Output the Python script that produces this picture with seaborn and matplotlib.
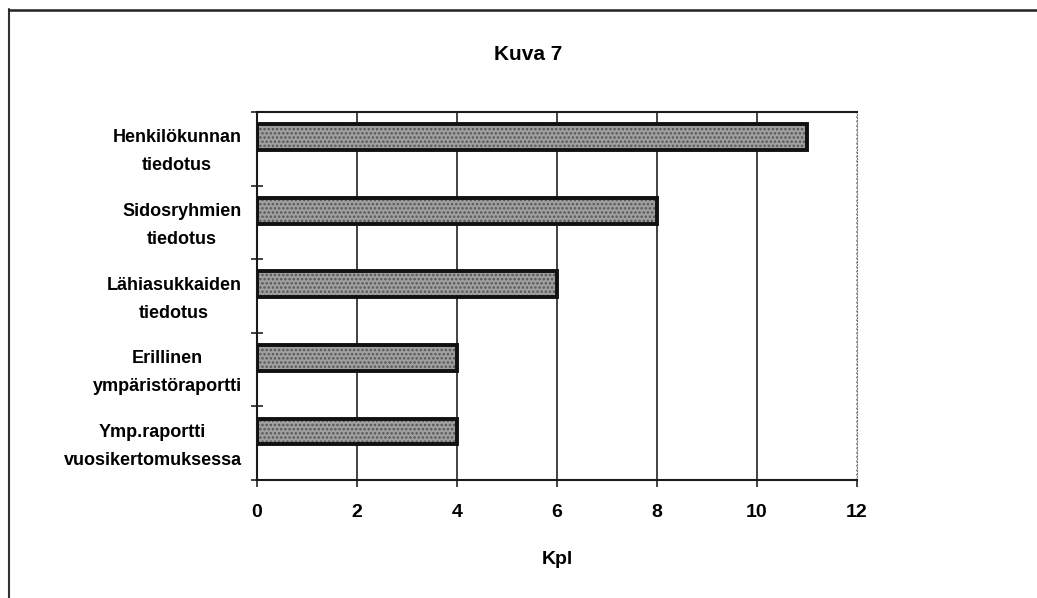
import numpy as np
import pandas as pd
import matplotlib
matplotlib.use("Agg")
import matplotlib.pyplot as plt
from matplotlib.patches import Rectangle
from matplotlib.lines import Line2D
import seaborn as sns

categories = ["Henkilökunnan\ntiedotus", "Sidosryhmien\ntiedotus", "Lähiasukkaiden\ntiedotus",
              "Erillinen\nympäristöraportti", "Ymp.raportti\nvuosikertomuksessa"]
values = [11, 8, 6, 4, 4]
xticks = [0, 2, 4, 6, 8, 10, 12]
title = "Kuva 7"
xlabel = "Kpl"

sns.set_style("white")
plt.rcParams['font.family'] = ['Liberation Sans', 'DejaVu Sans']
plt.rcParams['hatch.linewidth'] = 1.2
plt.rcParams['text.color'] = 'black'

df = pd.DataFrame({"cat": categories, "val": values})

fig = plt.figure(figsize=(10.37, 5.98), dpi=100)
ax = fig.add_axes([257/1037, 1-480/598, 600/1037, 368/598])

sns.barplot(data=df, x="val", y="cat", orient="h", ax=ax, width=0.35,
            color="#a0a0a0", edgecolor="#555555", linewidth=0, hatch="....",
            saturation=1)
for p in list(ax.patches):
    ax.add_patch(Rectangle(p.get_xy(), p.get_width(), p.get_height(),
                           fill=False, edgecolor="#111111", lw=2.8, zorder=3))

n = len(categories)
ax.set_ylim(n - 0.34, -0.34)
ax.set_xlim(xticks[0], xticks[-1])
ax.set_xticks(xticks)
ax.set_xticklabels([str(t) for t in xticks], fontsize=14, fontweight="bold", color="black")
ax.set_yticks(np.arange(n) + 0.1)
ax.set_yticklabels(categories, fontsize=13, fontweight="bold", color="black",
                   multialignment="center", ha="right", linespacing=1.85)
ax.tick_params(axis="y", which="major", left=True, length=0, pad=11)
ax.set_yticks(np.arange(n + 1) - 0.34, minor=True)
ax.tick_params(axis="y", which="minor", left=True, length=9, direction="inout", width=1.2, color="#222222")
ax.tick_params(axis="x", which="major", bottom=True, length=5, direction="out", width=1.2, color="#222222", pad=12)
ax.set_ylabel("")
ax.set_xlabel(xlabel, fontsize=14, fontweight="bold", labelpad=22, color="black")

ax.xaxis.grid(True, color="#222222", linewidth=1.2)
ax.set_axisbelow(True)
gl = ax.get_xgridlines()
gl[-1].set_linestyle(":")
gl[-1].set_color("#777777")

for s in ["left", "bottom", "top"]:
    ax.spines[s].set_visible(True)
    ax.spines[s].set_color("#1a1a1a")
    ax.spines[s].set_linewidth(1.5)
ax.spines["right"].set_visible(True)
ax.spines["right"].set_linestyle(":")
ax.spines["right"].set_color("#777777")

fig.text(528/1037, 1-55/598, title, ha="center", va="center", fontsize=15, fontweight="bold")

fig.add_artist(Line2D([9/1037, 9/1037], [0, 1-9/598], transform=fig.transFigure, color="#333333", lw=1.5))
fig.add_artist(Line2D([9/1037, 1], [1-10/598, 1-10/598], transform=fig.transFigure, color="#222222", lw=1.8))

fig.savefig("out.png", dpi=100)
